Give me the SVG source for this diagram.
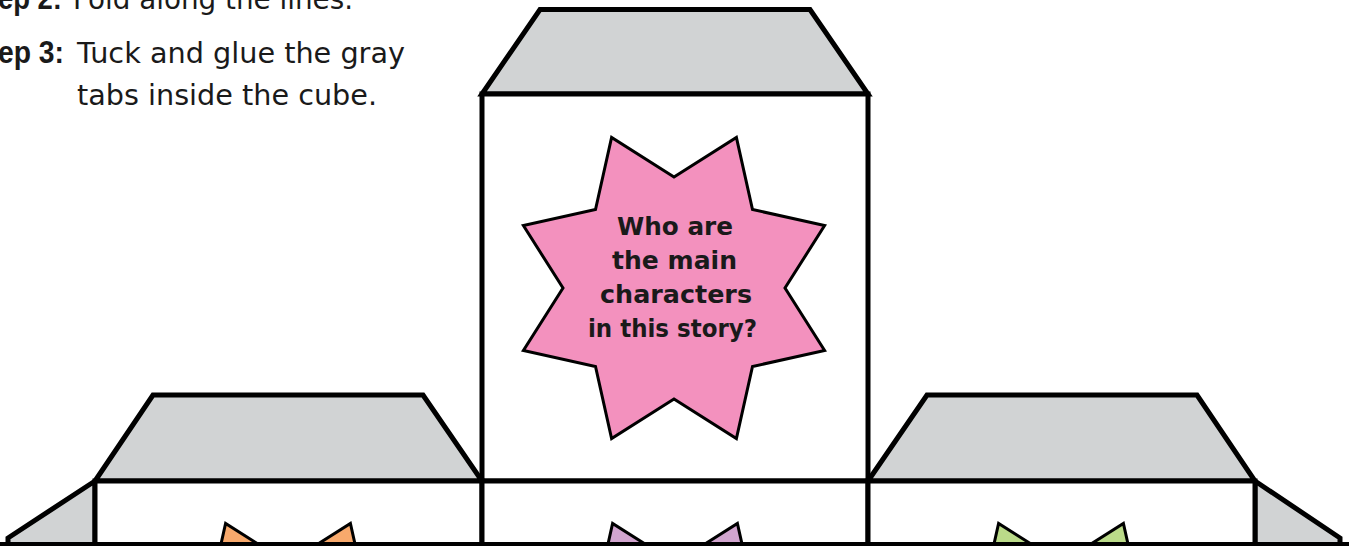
<svg xmlns="http://www.w3.org/2000/svg" xmlns:xlink="http://www.w3.org/1999/xlink" width="1349" height="546" viewBox="0 0 1349 546">
<style>
  .tab { fill: #D1D3D4; stroke: #000; stroke-width: 5; stroke-linejoin: miter; }
  .face { fill: #fff; stroke: #000; stroke-width: 5; }
  .star { stroke: #000; stroke-width: 3; stroke-linejoin: miter; }
  .instr { font-family: "DejaVu Sans", "Liberation Sans", sans-serif; font-size: 28px; fill: #1a1a1a; }
  .b { font-family: "Liberation Sans", "DejaVu Sans", sans-serif; font-weight: bold; font-size: 31px; }
  .q { font-family: "DejaVu Sans", "Liberation Sans", sans-serif; font-size: 24px; font-weight: bold; fill: #1a1a1a; text-anchor: middle; }
</style>
<defs>
  <polygon id="star8" points="0,-111 62.4,-150.6 78.5,-78.5 150.6,-62.4 111,0 150.6,62.4 78.5,78.5 62.4,150.6 0,111 -62.4,150.6 -78.5,78.5 -150.6,62.4 -111,0 -150.6,-62.4 -78.5,-78.5 -62.4,-150.6"/>
</defs>
<rect width="1349" height="546" fill="#fff"/>

<g id="instructions" class="instr">
  <text class="b" x="-2" y="9" textLength="64" lengthAdjust="spacingAndGlyphs">ep 2:</text>
  <text x="73" y="9" textLength="280" lengthAdjust="spacingAndGlyphs">Fold along the lines.</text>
  <text class="b" x="-2" y="63" textLength="66" lengthAdjust="spacingAndGlyphs">ep 3:</text>
  <text x="77" y="63" textLength="328" lengthAdjust="spacingAndGlyphs">Tuck and glue the gray</text>
  <text x="77" y="105" textLength="300" lengthAdjust="spacingAndGlyphs">tabs inside the cube.</text>
</g>

<g id="top-tab">
  <polygon class="tab" points="482,94 540,9.5 810,9.5 868,94"/>
</g>
<g id="left-tab">
  <polygon class="tab" points="95,481 153,395 423,395 482,481"/>
</g>
<g id="right-tab">
  <polygon class="tab" points="868,481 927,395 1197,395 1255,481"/>
</g>
<g id="far-left-tab">
  <polygon class="tab" points="95,481 8,538 8,550 95,550"/>
</g>
<g id="far-right-tab">
  <polygon class="tab" points="1255,481 1340,538 1340,550 1255,550"/>
</g>

<g id="top-face">
  <rect class="face" x="482" y="94" width="386" height="387"/>
  <use xlink:href="#star8" href="#star8" class="star" fill="#F391BE" transform="translate(674,288)"/>
  <text class="q" x="675" y="235" textLength="116" lengthAdjust="spacingAndGlyphs">Who are</text>
  <text class="q" x="674.5" y="269" textLength="125" lengthAdjust="spacingAndGlyphs">the main</text>
  <text class="q" x="676" y="303" textLength="152" lengthAdjust="spacingAndGlyphs">characters</text>
  <text class="q" x="672.5" y="337" textLength="169" lengthAdjust="spacingAndGlyphs">in this story?</text>
</g>

<g id="left-face">
  <rect class="face" x="95" y="481" width="387" height="80"/>
  <use xlink:href="#star8" href="#star8" class="star" fill="#F8A96C" transform="translate(288,674)"/>
</g>
<g id="center-face">
  <rect class="face" x="482" y="481" width="386" height="80"/>
  <use xlink:href="#star8" href="#star8" class="star" fill="#D2A5CF" transform="translate(675,674)"/>
</g>
<g id="right-face">
  <rect class="face" x="868" y="481" width="387" height="80"/>
  <use xlink:href="#star8" href="#star8" class="star" fill="#BBDB89" transform="translate(1061,674)"/>
</g>

<g id="connectors">
  <line x1="0" y1="544" x2="1349" y2="544" stroke="#000" stroke-width="4"/>
</g>
</svg>
